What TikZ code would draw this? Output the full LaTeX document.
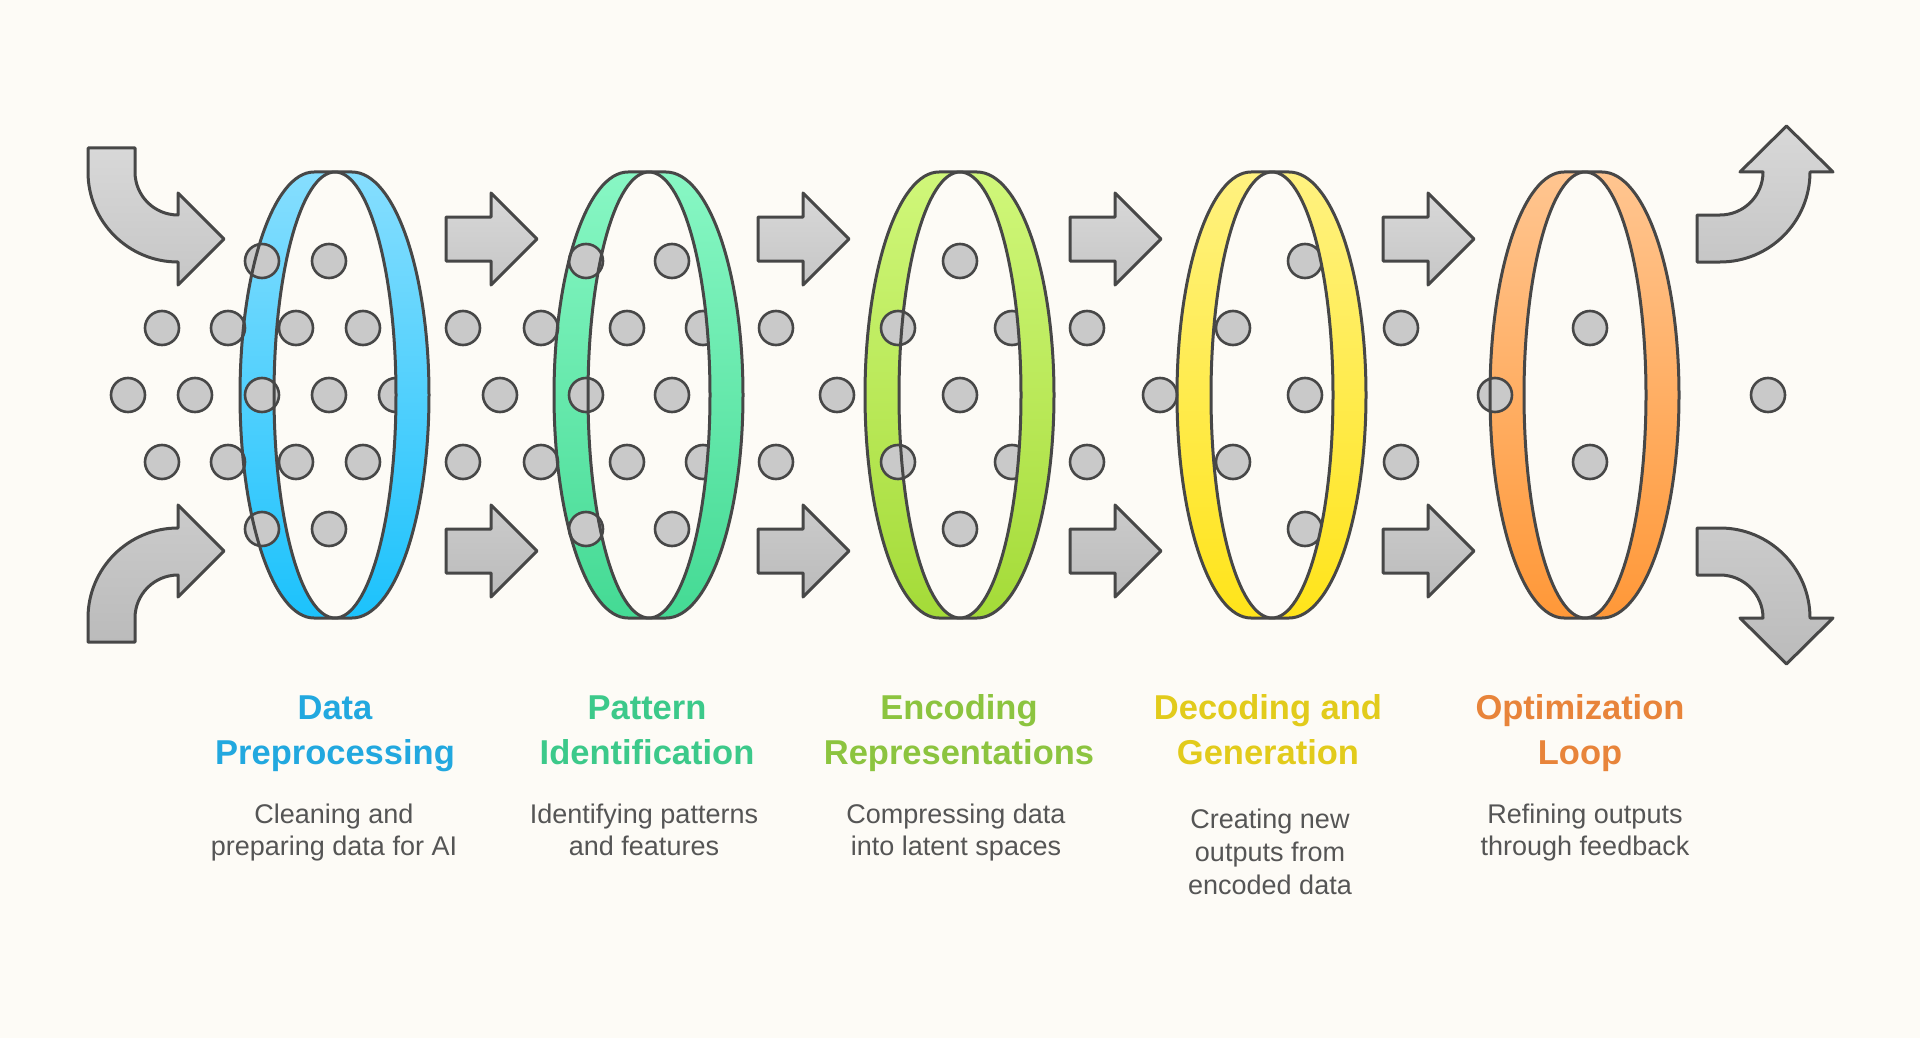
\documentclass[tikz,border=0pt]{standalone}
\usepackage{fontspec}
\setmainfont{Liberation Sans}
\definecolor{bg}{HTML}{FDFBF6}
\definecolor{edge}{HTML}{474747}
\definecolor{dotgray}{HTML}{C9C9C9}
\definecolor{arrtop}{HTML}{D8D8D8}
\definecolor{arrbot}{HTML}{C6C6C6}
\definecolor{arrtopb}{HTML}{CBCBCB}
\definecolor{arrbotb}{HTML}{BBBBBB}
\definecolor{r1t}{HTML}{86DEFE}
\definecolor{r1b}{HTML}{1CC2FC}
\definecolor{r2t}{HTML}{88F7C4}
\definecolor{r2b}{HTML}{44DA94}
\definecolor{r3t}{HTML}{D0F77A}
\definecolor{r3b}{HTML}{A4DB38}
\definecolor{r4t}{HTML}{FFF280}
\definecolor{r4b}{HTML}{FFE41A}
\definecolor{r5t}{HTML}{FFC590}
\definecolor{r5b}{HTML}{FF9838}
\definecolor{c1}{HTML}{22A8DF}
\definecolor{c2}{HTML}{3CC98A}
\definecolor{c3}{HTML}{8CC43F}
\definecolor{c4}{HTML}{E2CB1B}
\definecolor{c5}{HTML}{E8843A}
\definecolor{descgray}{HTML}{555555}
\newcommand\mydot[2]{\path[dotst] (#1,#2) circle[radius=17];}
\begin{document}
\begin{tikzpicture}[x=1pt,y=-1pt,line join=round,
  outl/.style={draw=edge,line width=3pt},
  dotst/.style={draw=edge,line width=2.6pt,fill=dotgray},
  arrup/.style={draw=edge,line width=3pt,top color=arrtop,bottom color=arrbot},
  arrdn/.style={draw=edge,line width=3pt,top color=arrtopb,bottom color=arrbotb},
  title/.style={anchor=base,inner sep=0pt,font=\fontsize{34.5}{40}\selectfont\bfseries},
  desc/.style={anchor=base,inner sep=0pt,text=descgray,font=\fontsize{27}{32}\selectfont}]
\useasboundingbox (0,0) rectangle (1920,1038);
\fill[bg] (0,0) rectangle (1920,1038);

% curved arrows, left
\path[arrup] (88,148) -- (88,172) arc[start angle=180,end angle=90,radius=90]
  -- (178,285) -- (224,239) -- (178,193) -- (178,215)
  arc[start angle=90,end angle=180,radius=43] -- (135,148) -- cycle;
\path[arrdn] (88,642) -- (88,618) arc[start angle=180,end angle=270,radius=90]
  -- (178,505) -- (224,551) -- (178,597) -- (178,575)
  arc[start angle=270,end angle=180,radius=43] -- (135,642) -- cycle;
% curved arrows, right
\path[arrup] (1697,262) -- (1720,262) arc[start angle=90,end angle=0,radius=90]
  -- (1833,172) -- (1786.5,126) -- (1740,172) -- (1763,172)
  arc[start angle=0,end angle=90,radius=43] -- (1697,215) -- cycle;
\path[arrdn] (1697,528) -- (1720,528) arc[start angle=270,end angle=360,radius=90]
  -- (1833,618) -- (1786.5,664) -- (1740,618) -- (1763,618)
  arc[start angle=360,end angle=270,radius=43] -- (1697,575) -- cycle;

% straight arrows
\foreach \m in {491,803,1115,1428}{
  \path[arrup] (\m-45,217) -- (\m,217) -- (\m,193) -- (\m+46,239) -- (\m,285) -- (\m,261) -- (\m-45,261) -- cycle;
  \path[arrdn] (\m-45,529) -- (\m,529) -- (\m,505) -- (\m+46,551) -- (\m,597) -- (\m,573) -- (\m-45,573) -- cycle;
}

% ring bands (full)
\foreach \c/\ct/\cb in {333/r1t/r1b,647/r2t/r2b,958/r3t/r3b,1270/r4t/r4b,1583/r5t/r5b}{
  \path[even odd rule,top color=\ct,bottom color=\cb]
    (\c-19,172) arc[start angle=270,end angle=90,x radius=74,y radius=223]
    -- (\c+19,618) arc[start angle=90,end angle=-90,x radius=77,y radius=223] -- cycle
    (\c+2,395) ellipse[x radius=61,y radius=223];
}

% dots
\foreach \x in {262,329,586,672,960,1305}{\mydot{\x}{261}\mydot{\x}{529}}
\foreach \x in {162,228,296,363,463,541,627,703,776,898,1012,1087,1233,1401,1590}{\mydot{\x}{328}\mydot{\x}{462}}
\foreach \x in {128,195,262,329,396,500,586,672,837,960,1160,1305,1495,1768}{\mydot{\x}{395}}

% right (back) part of the bands and outlines
\foreach \c/\ct/\cb in {333/r1t/r1b,647/r2t/r2b,958/r3t/r3b,1270/r4t/r4b,1583/r5t/r5b}{
  \path[top color=\ct,bottom color=\cb]
    (\c+2,172) -- (\c+19,172) arc[start angle=270,end angle=450,x radius=77,y radius=223]
    -- (\c+2,618) arc[start angle=90,end angle=-90,x radius=61,y radius=223] -- cycle;
  \path[outl]
    (\c-19,172) arc[start angle=270,end angle=90,x radius=74,y radius=223]
    -- (\c+19,618) arc[start angle=90,end angle=-90,x radius=77,y radius=223] -- cycle;
  \path[outl] (\c+2,395) ellipse[x radius=61,y radius=223];
}

% titles
\node[title,text=c1] (t1a) at (335,719) {Data};
\node[title,text=c1] (t1b) at (335,764) {Preprocessing};
\node[title,text=c2] (t2a) at (647,719) {Pattern};
\node[title,text=c2] (t2b) at (647,764) {Identification};
\node[title,text=c3] (t3a) at (959,719) {Encoding};
\node[title,text=c3] (t3b) at (959,764) {Representations};
\node[title,text=c4] (t4a) at (1268,719) {Decoding and};
\node[title,text=c4] (t4b) at (1268,764) {Generation};
\node[title,text=c5] (t5a) at (1580,719) {Optimization};
\node[title,text=c5] (t5b) at (1580,764) {Loop};

% descriptions
\node[desc] (d1a) at (334,823) {Cleaning and};
\node[desc] (d1b) at (334,855) {preparing data for AI};
\node[desc] (d2a) at (644,823) {Identifying patterns};
\node[desc] (d2b) at (644,855) {and features};
\node[desc] (d3a) at (956,823) {Compressing data};
\node[desc] (d3b) at (956,855) {into latent spaces};
\node[desc] (d4a) at (1270,828) {Creating new};
\node[desc] (d4b) at (1270,861) {outputs from};
\node[desc] (d4c) at (1270,894) {encoded data};
\node[desc] (d5a) at (1585,823) {Refining outputs};
\node[desc] (d5b) at (1585,855) {through feedback};
\end{tikzpicture}
\end{document}
